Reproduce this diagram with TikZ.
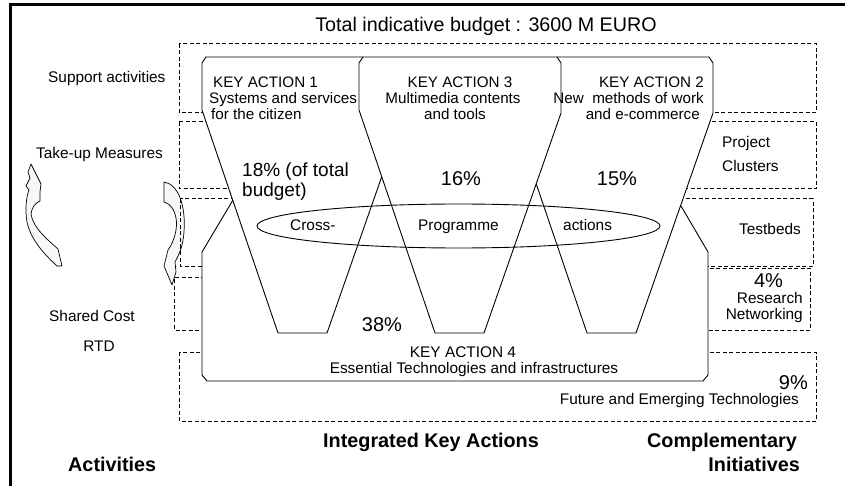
\documentclass[tikz,border=0pt]{standalone}
\usepackage{fontspec}
\setmainfont{Liberation Sans}
\newcommand\myfs[1]{\fontsize{#1}{#1}\selectfont}
\begin{document}
\begin{tikzpicture}[x=1pt,y=-1pt,
  dbox/.style={draw, dash pattern=on 4pt off 2.5pt, line width=1pt},
  kaline/.style={draw, line width=0.9pt, line join=round},
  arr/.style={draw, fill=black!3, line width=0.7pt, line join=round},
  txt/.style={inner sep=0pt, font=\myfs{15.4}},
  pct/.style={inner sep=0pt, font=\myfs{20}},
  hd/.style={inner sep=0pt, font=\myfs{19.8}\bfseries}]
\useasboundingbox (0,0) rectangle (845,486);
\clip (0,0) rectangle (845,486);
\fill[white] (0,0) rectangle (845,486);
% frame
\draw[line width=3pt] (10,500) -- (10,5) -- (860,5);
% curved arrows
\draw[arr] (31,164) -- (36,174) -- (41,184) -- (40,192) -- (40,201) .. controls (35,203) and (32,207) .. (31,214) .. controls (33,228) and (48,240) .. (58,249) -- (62,266) -- (57,266) .. controls (44,254) and (31,240) .. (27,222) .. controls (25,210) and (26,198) .. (29,190) -- (26,186) -- (30,178) -- (28,172) -- cycle;
\draw[arr] (164,182) .. controls (178,184) and (186,205) .. (184,232) .. controls (183,246) and (179,255) .. (175,262) -- (176,272) -- (172,285) -- (164,266) -- (168,250) .. controls (174,242) and (178,228) .. (176,218) .. controls (174,208) and (169,203) .. (164,202) -- cycle;
% dashed boxes
\draw[dbox] (179,44) rectangle (816,113);
\draw[dbox] (179,122) rectangle (816,189);
\draw[dbox] (180,199) rectangle (813,266);
\draw[dbox] (205,277) -- (174.5,277) -- (174.5,330) -- (810,330) -- (810,268) -- (705,268);
\draw[dbox] (179,352) rectangle (816,421);
% key action geometry
\coordinate (k1r) at (404,113); \coordinate (k1b) at (327,333);
\coordinate (k3l) at (359,110); \coordinate (k3bl) at (435,333);
\coordinate (k3r) at (561,113); \coordinate (k3br) at (484,333);
\coordinate (k2l) at (511,110); \coordinate (k2bl) at (587,333);
\coordinate (x13) at (intersection of k1r--k1b and k3l--k3bl);
\coordinate (x23) at (intersection of k2l--k2bl and k3r--k3br);
% white fills
\fill[white] (206,57) -- (400,57) -- (404,63) -- (k1r) -- (k1b) -- (278,333) -- (202,110) -- (202,63) -- cycle;
\fill[white] (363,57) -- (557,57) -- (561,63) -- (k3r) -- (k3br) -- (k3bl) -- (k3l) -- (359,63) -- cycle;
\fill[white] (515,57) -- (709,57) -- (713,63) -- (713,113) -- (636,333) -- (k2bl) -- (k2l) -- (511,63) -- cycle;
\fill[white] (233,200) -- (x13) -- (x23) -- (681,206) -- (708,252) -- (708,375) -- (703,381) -- (207,381) -- (202,375) -- (202,252) -- cycle;
% outlines
\draw[kaline] (363,57) -- (557,57) -- (561,63) -- (k3r) -- (k3br) -- (k3bl) -- (k3l) -- (359,63) -- cycle;
\draw[kaline] (363,57) -- (206,57) -- (202,63) -- (202,110) -- (278,333) -- (k1b) -- (x13);
\draw[kaline] (557,57) -- (709,57) -- (713,63) -- (713,113) -- (636,333) -- (k2bl) -- (x23);
\draw[kaline] (233,200) -- (202,252) -- (202,375) -- (207,381) -- (703,381) -- (708,375) -- (708,252) -- (681,206);
% ellipse
\draw[kaline] (458.5,226) ellipse [x radius=201.5pt, y radius=22pt];
% title
\node[inner sep=0pt, font=\myfs{19.7}, anchor=base] (title) at (486,32) {Total indicative budget : 3600 M EURO};
% left labels
\node[txt, anchor=base west] (sup) at (48,83) {Support activities};
\node[txt, anchor=base west] (tum) at (36,159) {Take-up Measures};
\node[txt, anchor=base west] (shc) at (49,321) {Shared Cost};
\node[txt, anchor=base] (rtd) at (99,351) {RTD};
% bottom headings
\node[hd, anchor=base west] (act) at (68,471) {Activities};
\node[hd, anchor=base west] (ika) at (323,447) {Integrated Key Actions};
\node[hd, anchor=base east] (com) at (797,447) {Complementary};
\node[hd, anchor=base east] (ini) at (800,471) {Initiatives};
% KA1
\node[txt, font=\myfs{15.2}, anchor=base west] (ka1a) at (213,88) {KEY ACTION 1};
\node[txt, font=\myfs{15.2}, anchor=base west] (ka1b) at (209,104) {Systems and services};
\node[txt, font=\myfs{15.2}, anchor=base west] (ka1c) at (211,120) {for the citizen};
% KA3
\node[txt, font=\myfs{15.2}, anchor=base] (ka3a) at (460,88) {KEY ACTION 3};
\node[txt, font=\myfs{15.2}, anchor=base] (ka3b) at (453,104) {Multimedia contents};
\node[txt, font=\myfs{15.2}, anchor=base] (ka3c) at (455,120) {and tools};
% KA2
\node[txt, font=\myfs{15.2}, anchor=base east] (ka2a) at (704,88) {KEY ACTION 2};
\node[txt, font=\myfs{15.2}, anchor=base east] (ka2b) at (704,104) {New\ \ methods of work};
\node[txt, font=\myfs{15.2}, anchor=base east] (ka2c) at (700,120) {and e-commerce};
% percentages
\node[inner sep=0pt, font=\myfs{19}, anchor=base west] (p18a) at (242,177) {18\% (of total};
\node[inner sep=0pt, font=\myfs{19}, anchor=base west] (p18b) at (242,197) {budget)};
\node[pct, anchor=base] (p16) at (461,186) {16\%};
\node[pct, anchor=base] (p15) at (617,186) {15\%};
\node[pct, anchor=base] (p38) at (382,331) {38\%};
% cross programme
\node[txt, anchor=base west] (cr) at (290,231) {Cross-};
\node[txt, anchor=base west] (pr) at (418,231) {Programme};
\node[txt, anchor=base west] (ac) at (563,231) {actions};
% right labels
\node[txt, anchor=base west] (pc1) at (722,148) {Project};
\node[txt, anchor=base west] (pc2) at (722,172) {Clusters};
\node[txt, anchor=base west] (tb) at (739,235) {Testbeds};
\node[pct, anchor=base] (p4) at (768.5,287) {4\%};
\node[txt, anchor=base east] (rn1) at (803,303) {Research};
\node[txt, anchor=base east] (rn2) at (803,319) {Networking};
\node[pct, anchor=base east] (p9) at (808,389) {9\%};
\node[txt, anchor=base east] (fet) at (799,404) {Future and Emerging Technologies};
% KA4
\node[txt, anchor=base] (ka4a) at (463,357) {KEY ACTION 4};
\node[txt, anchor=base] (ka4b) at (474,373) {Essential Technologies and infrastructures};
\end{tikzpicture}
\end{document}
